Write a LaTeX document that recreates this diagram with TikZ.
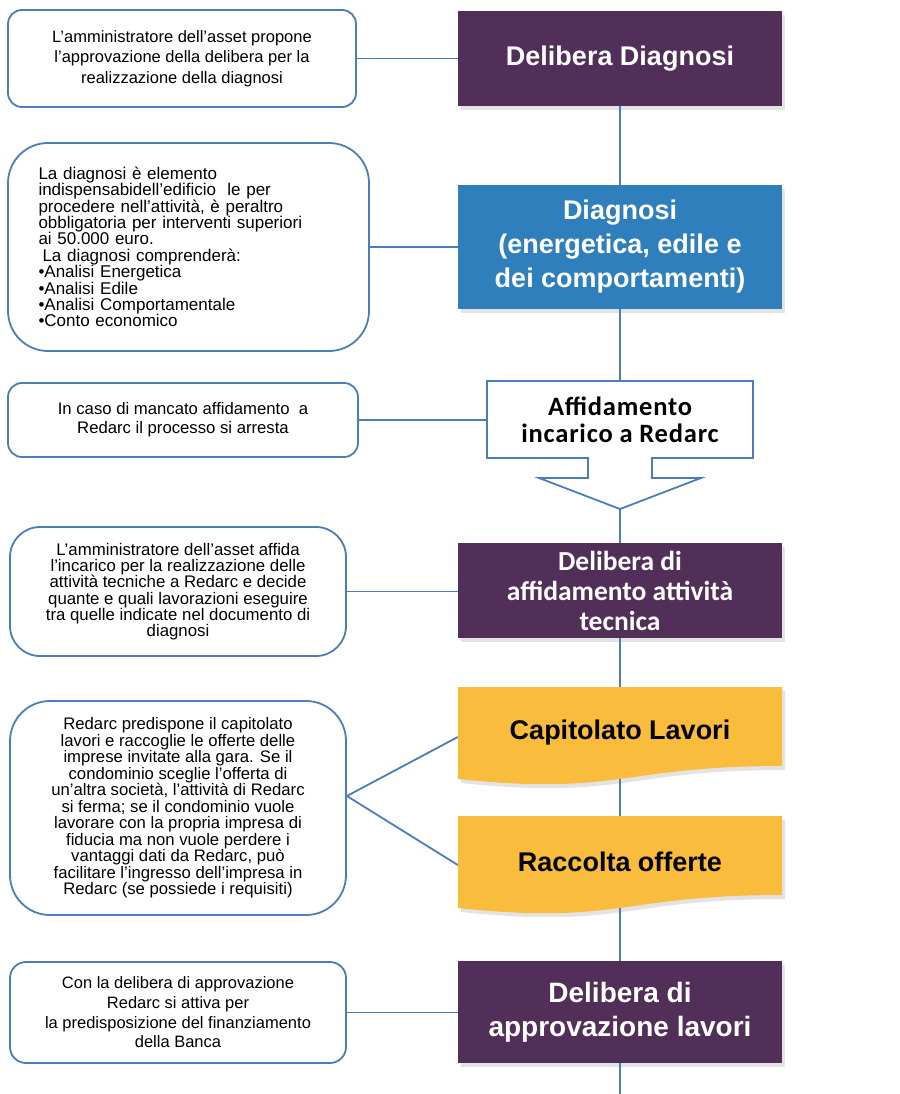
\documentclass[tikz,border=0pt]{standalone}
\usepackage{fontspec}
\setmainfont{Liberation Sans}
\newfontfamily\calibri{Carlito}
\newfontfamily\calibriwide[LetterSpace=3]{Carlito}
\usetikzlibrary{shadows}
\definecolor{purp}{RGB}{82,47,88}
\definecolor{dblue}{RGB}{46,127,187}
\definecolor{orng}{RGB}{249,188,61}
\definecolor{lblue}{RGB}{74,126,187}
\begin{document}
\begin{tikzpicture}[x=1pt,y=-1pt,
  note/.style={draw=lblue, line width=1.8pt, fill=white, inner sep=0pt, align=center},
  conn/.style={draw=lblue, line width=1.8pt},
  stepbox/.style={inner sep=0pt, align=center, text=white, minimum width=324pt},
  arialtitle/.style={font=\bfseries\fontsize{27}{34}\selectfont},
  shadowed/.style={drop shadow={shadow xshift=3pt, shadow yshift=-4pt, opacity=0.11, fill=black}},
]
\useasboundingbox (0,0) rectangle (899,1094);

% ---- main column ----
\node[stepbox, arialtitle, fill=purp, minimum height=95pt, shadowed] (d1) at (620,58.5) {Delibera Diagnosi};
\node[stepbox, arialtitle, fill=dblue, minimum height=124pt, shadowed] (diag) at (620,247) {Diagnosi\\(energetica, edile e\\dei comportamenti)};

\draw[lblue, line width=1.8pt, fill=white] (487,381) -- (753,381) -- (753,458) -- (652,458) -- (652,478) -- (701,478) -- (620,509) -- (539,478) -- (588,478) -- (588,458) -- (487,458) -- cycle;
\node[inner sep=0pt, align=center, minimum width=266pt, minimum height=77pt, font=\calibriwide\bfseries\fontsize{26.5}{27}\selectfont] (aff) at (620,419.5) {Affidamento\\incarico a Redarc};
\coordinate (afftip) at (620,509);

\node[stepbox, fill=purp, minimum height=95pt, shadowed, font=\calibri\bfseries\fontsize{27.5}{30}\selectfont] (d2) at (620,590.5) {Delibera di\\affidamento attività\\tecnica};

\fill[black, opacity=0.11, shift={(3,4)}] (458,687) -- (782,687) -- (782,766) .. controls (620,766) and (620,796) .. (458,779) -- cycle;
\fill[orng] (458,687) -- (782,687) -- (782,766) .. controls (620,766) and (620,796) .. (458,779) -- cycle;
\node[inner sep=0pt, minimum width=324pt, minimum height=92pt, font=\bfseries\fontsize{27}{34}\selectfont] (cap) at (620,733) {Capitolato Lavori};

\fill[black, opacity=0.11, shift={(3,4)}] (458,816) -- (782,816) -- (782,895) .. controls (620,895) and (620,925) .. (458,908) -- cycle;
\fill[orng] (458,816) -- (782,816) -- (782,895) .. controls (620,895) and (620,925) .. (458,908) -- cycle;
\node[inner sep=0pt, minimum width=324pt, minimum height=92pt, font=\bfseries\fontsize{27}{34}\selectfont] (racc) at (620,862) {Raccolta offerte};

\node[stepbox, fill=purp, minimum height=102pt, shadowed, font=\bfseries\fontsize{28}{34}\selectfont] (d3) at (620,1012) {Delibera di\\approvazione lavori};
\coordinate (bottom) at (620,1094);

% ---- notes ----
\node[note, rounded corners=14pt, minimum width=348pt, minimum height=97pt, font=\fontsize{16.5}{20.5}\selectfont] (b1) at (182,58.5)
  {L'amministratore dell'asset propone\\l'approvazione della delibera per la\\realizzazione della diagnosi};

\node[note, rounded corners=40pt, minimum width=361pt, minimum height=208pt, text width=300pt, align=left, font=\fontsize{17}{16.4}\selectfont] (b2) at (188.5,247)
  {La diagnosi è elemento\\indispensabidell’edificio\ \ le per\\procedere nell’attività, è peraltro\\obbligatoria per interventi superiori\\ai 50.000 euro.\\\hspace*{4pt}La diagnosi comprenderà:\\•Analisi Energetica\\•Analisi Edile\\•Analisi Comportamentale\\•Conto economico};

\node[note, rounded corners=14pt, minimum width=350pt, minimum height=74pt, font=\fontsize{16.7}{19}\selectfont] (b3) at (183,420)
  {In caso di mancato affidamento\ \ a\\Redarc il processo si arresta};

\node[note, rounded corners=30pt, minimum width=336pt, minimum height=129pt, font=\fontsize{16.8}{16.3}\selectfont] (b4) at (178,591.5)
  {L’amministratore dell’asset affida\\l’incarico per la realizzazione delle\\attività tecniche a Redarc e decide\\quante e quali lavorazioni eseguire\\tra quelle indicate nel documento di\\diagnosi};

\node[note, rounded corners=40pt, minimum width=336pt, minimum height=214pt, font=\fontsize{16.7}{16.5}\selectfont] (b5) at (178,808)
  {Redarc predispone il capitolato\\lavori e raccoglie le offerte delle\\imprese invitate alla gara. Se il\\condominio sceglie l’offerta di\\un’altra società, l’attività di Redarc\\si ferma; se il condominio vuole\\lavorare con la propria impresa di\\fiducia ma non vuole perdere i\\vantaggi dati da Redarc, può\\facilitare l’ingresso dell’impresa in\\Redarc (se possiede i requisiti)};

\node[note, rounded corners=16pt, minimum width=336pt, minimum height=101pt, font=\fontsize{16.5}{19.7}\selectfont] (b6) at (178,1012.5)
  {Con la delibera di approvazione\\Redarc si attiva per\\la predisposizione del finanziamento\\della Banca};

% ---- connectors ----
\draw[conn] (d1.south) -- (diag.north);
\draw[conn] (diag.south) -- (aff.north);
\draw[conn] (afftip) -- (d2.north);
\draw[conn] (d2.south) -- (cap.north);
\draw[conn] (cap.south) -- (racc.north);
\draw[conn] (racc.south) -- (d3.north);
\draw[conn] (d3.south) -- (bottom);

\draw[conn] (b1.east) -- (d1.west);
\draw[conn] (b2.east) -- (diag.west);
\draw[conn] (b3.east) -- (b3.east -| aff.west);
\draw[conn] (b4.east) -- (b4.east -| d2.west);
\draw[conn] ([yshift=12pt]b5.east) -- ([yshift=-4pt]cap.west);
\draw[conn] ([yshift=12pt]b5.east) -- ([yshift=-3pt]racc.west);
\draw[conn] (b6.east) -- (b6.east -| d3.west);
\end{tikzpicture}
\end{document}
